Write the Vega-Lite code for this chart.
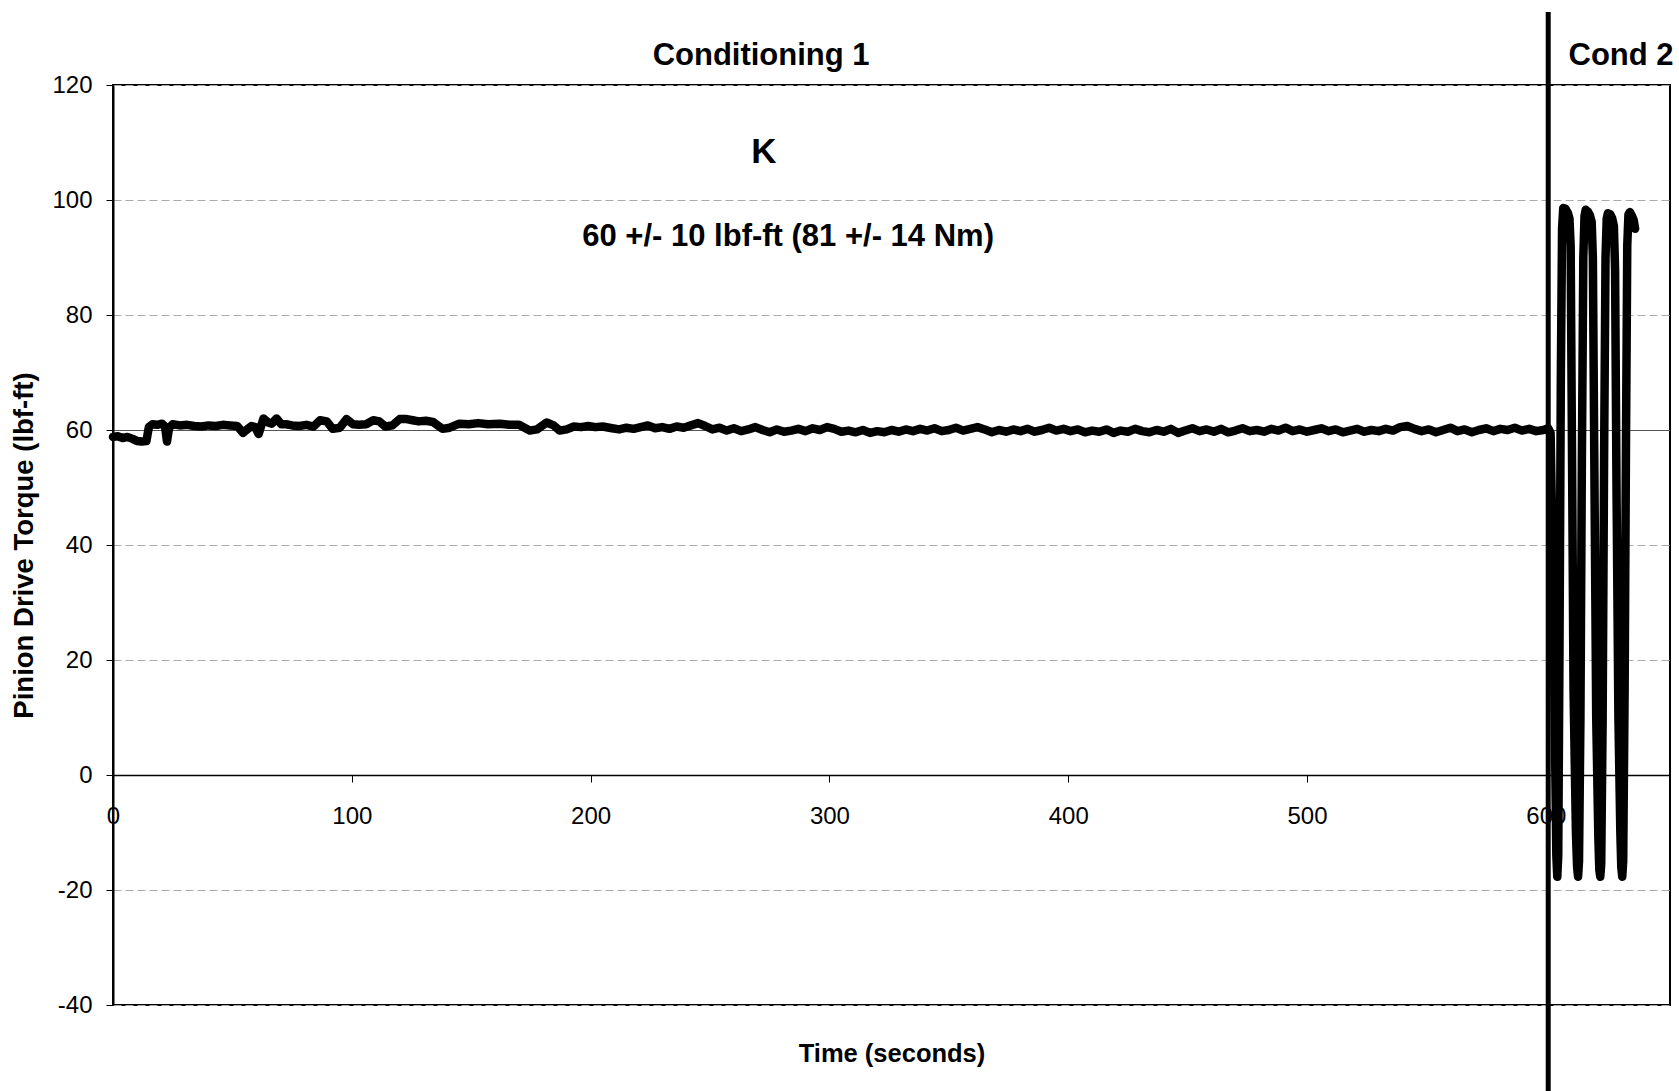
{
  "$schema": "https://vega.github.io/schema/vega-lite/v6.json",
  "width": 1557,
  "height": 920,
  "autosize": {"type": "none"},
  "padding": {"left": 113, "top": 85, "right": 9, "bottom": 86},
  "background": "white",
  "config": {
    "view": {"stroke": "black", "strokeWidth": 2},
    "axis": {
      "labelFont": "Liberation Sans",
      "titleFont": "Liberation Sans",
      "labelFontSize": 24,
      "labelColor": "black",
      "titleColor": "black",
      "titleFontWeight": "bold",
      "domainColor": "black",
      "tickColor": "black"
    }
  },
  "layer": [
    {
      "data": {
        "values": [
          {"t": 0, "v": 58.8}, {"t": 2, "v": 58.9}, {"t": 4, "v": 58.6}, {"t": 6, "v": 58.8}, {"t": 8, "v": 58.5},
          {"t": 10, "v": 58.1}, {"t": 12, "v": 58.0}, {"t": 14, "v": 58.1}, {"t": 15, "v": 60.5}, {"t": 16.5, "v": 61.0},
          {"t": 18.5, "v": 60.9}, {"t": 20.5, "v": 61.1}, {"t": 21.8, "v": 60.6}, {"t": 22.6, "v": 58.0}, {"t": 23.5, "v": 60.4},
          {"t": 25, "v": 61.0}, {"t": 28, "v": 60.8}, {"t": 31, "v": 60.9}, {"t": 34, "v": 60.7}, {"t": 37, "v": 60.6},
          {"t": 40, "v": 60.8}, {"t": 43, "v": 60.7}, {"t": 46, "v": 60.9}, {"t": 49, "v": 60.8}, {"t": 52, "v": 60.7},
          {"t": 54.5, "v": 59.5}, {"t": 56.5, "v": 60.2}, {"t": 58, "v": 60.7}, {"t": 59.5, "v": 60.5}, {"t": 61, "v": 59.3},
          {"t": 63, "v": 62.0}, {"t": 65, "v": 61.3}, {"t": 66.5, "v": 61.1}, {"t": 68.5, "v": 62.0}, {"t": 70.5, "v": 61.0},
          {"t": 72.5, "v": 61.0}, {"t": 75, "v": 60.8}, {"t": 78, "v": 60.7}, {"t": 81, "v": 60.9}, {"t": 84, "v": 60.6},
          {"t": 86.7, "v": 61.7}, {"t": 89.5, "v": 61.5}, {"t": 92, "v": 60.2}, {"t": 95, "v": 60.4}, {"t": 97.8, "v": 61.9},
          {"t": 100.5, "v": 61.0}, {"t": 103, "v": 60.9}, {"t": 106, "v": 61.0}, {"t": 109, "v": 61.7}, {"t": 111.5, "v": 61.5},
          {"t": 114, "v": 60.6}, {"t": 117, "v": 60.8}, {"t": 120, "v": 61.9}, {"t": 123, "v": 61.9}, {"t": 125.5, "v": 61.7},
          {"t": 128, "v": 61.5}, {"t": 131, "v": 61.6}, {"t": 134, "v": 61.4}, {"t": 138, "v": 60.2}, {"t": 141, "v": 60.4},
          {"t": 145, "v": 61.1}, {"t": 149, "v": 61.0}, {"t": 153, "v": 61.2}, {"t": 157, "v": 61.0}, {"t": 162, "v": 61.1},
          {"t": 166, "v": 60.9}, {"t": 170, "v": 60.9}, {"t": 174.5, "v": 59.9}, {"t": 177.5, "v": 60.1}, {"t": 181.6, "v": 61.3},
          {"t": 184.5, "v": 60.8}, {"t": 187, "v": 59.9}, {"t": 190, "v": 60.1}, {"t": 193, "v": 60.6}, {"t": 196, "v": 60.5},
          {"t": 199, "v": 60.7}, {"t": 202, "v": 60.5}, {"t": 205, "v": 60.6},
          {"t": 209, "v": 60.3}, {"t": 212, "v": 60.1}, {"t": 215, "v": 60.4}, {"t": 218, "v": 60.2}, {"t": 221, "v": 60.5},
          {"t": 224, "v": 60.8}, {"t": 227, "v": 60.3}, {"t": 230, "v": 60.5}, {"t": 233, "v": 60.2}, {"t": 236, "v": 60.6},
          {"t": 239, "v": 60.4}, {"t": 242, "v": 60.8}, {"t": 245, "v": 61.2}, {"t": 248, "v": 60.7}, {"t": 251, "v": 60.1},
          {"t": 254, "v": 60.4}, {"t": 257, "v": 59.9}, {"t": 260, "v": 60.3}, {"t": 263, "v": 59.8}, {"t": 266, "v": 60.1},
          {"t": 269, "v": 60.5}, {"t": 272, "v": 60.0}, {"t": 275, "v": 59.6}, {"t": 278, "v": 60.1}, {"t": 281, "v": 59.7},
          {"t": 284, "v": 59.9}, {"t": 287, "v": 60.2}, {"t": 290, "v": 59.8}, {"t": 293, "v": 60.3}, {"t": 296, "v": 60.0},
          {"t": 299, "v": 60.5}, {"t": 302, "v": 60.2}, {"t": 305, "v": 59.7}, {"t": 308, "v": 59.9}, {"t": 311, "v": 59.6},
          {"t": 314, "v": 60.0}, {"t": 317, "v": 59.5}, {"t": 320, "v": 59.8}, {"t": 323, "v": 59.6}, {"t": 326, "v": 60.0},
          {"t": 329, "v": 59.7}, {"t": 332, "v": 60.1}, {"t": 335, "v": 59.8}, {"t": 338, "v": 60.2}, {"t": 341, "v": 59.9},
          {"t": 344, "v": 60.3}, {"t": 347, "v": 59.8}, {"t": 350, "v": 60.0}, {"t": 353, "v": 60.4}, {"t": 356, "v": 59.9},
          {"t": 359, "v": 60.2}, {"t": 362, "v": 60.5}, {"t": 365, "v": 60.1}, {"t": 368, "v": 59.6}, {"t": 371, "v": 60.0},
          {"t": 374, "v": 59.7}, {"t": 377, "v": 60.1}, {"t": 380, "v": 59.8}, {"t": 383, "v": 60.2}, {"t": 386, "v": 59.7},
          {"t": 389, "v": 60.0}, {"t": 392, "v": 60.4}, {"t": 395, "v": 59.9}, {"t": 398, "v": 60.2}, {"t": 401, "v": 59.8},
          {"t": 404, "v": 60.1}, {"t": 407, "v": 59.6}, {"t": 410, "v": 59.9}, {"t": 413, "v": 59.7}, {"t": 416, "v": 60.1},
          {"t": 419, "v": 59.5}, {"t": 422, "v": 59.9}, {"t": 425, "v": 59.7}, {"t": 428, "v": 60.2}, {"t": 431, "v": 59.8},
          {"t": 434, "v": 59.6}, {"t": 437, "v": 60.0}, {"t": 440, "v": 59.7}, {"t": 443, "v": 60.2}, {"t": 446, "v": 59.5},
          {"t": 449, "v": 59.9}, {"t": 452, "v": 60.3}, {"t": 455, "v": 59.8}, {"t": 458, "v": 60.1}, {"t": 461, "v": 59.7},
          {"t": 464, "v": 60.2}, {"t": 467, "v": 59.6}, {"t": 470, "v": 59.9}, {"t": 473, "v": 60.3}, {"t": 476, "v": 59.8},
          {"t": 479, "v": 60.0}, {"t": 482, "v": 59.7}, {"t": 485, "v": 60.2}, {"t": 488, "v": 59.9}, {"t": 491, "v": 60.4},
          {"t": 494, "v": 59.8}, {"t": 497, "v": 60.1}, {"t": 500, "v": 59.7}, {"t": 503, "v": 60.0}, {"t": 506, "v": 60.3},
          {"t": 509, "v": 59.8}, {"t": 512, "v": 60.1}, {"t": 515, "v": 59.6}, {"t": 518, "v": 59.9}, {"t": 521, "v": 60.2},
          {"t": 524, "v": 59.7}, {"t": 527, "v": 60.0}, {"t": 530, "v": 59.8}, {"t": 533, "v": 60.2}, {"t": 536, "v": 59.9},
          {"t": 539, "v": 60.5}, {"t": 542, "v": 60.7}, {"t": 545, "v": 60.2}, {"t": 548, "v": 59.8}, {"t": 551, "v": 60.1},
          {"t": 554, "v": 59.6}, {"t": 557, "v": 60.0}, {"t": 560, "v": 60.4}, {"t": 563, "v": 59.8}, {"t": 566, "v": 60.1},
          {"t": 569, "v": 59.6}, {"t": 572, "v": 60.0}, {"t": 575, "v": 60.3}, {"t": 578, "v": 59.8}, {"t": 581, "v": 60.2},
          {"t": 584, "v": 60.0}, {"t": 587, "v": 60.4}, {"t": 590, "v": 59.9}, {"t": 593, "v": 60.2}, {"t": 596, "v": 59.8},
          {"t": 599, "v": 60.0},
          {"t": 601, "v": 60.3}, {"t": 602, "v": 59.5}, {"t": 603.2, "v": 30}, {"t": 604, "v": 0}, {"t": 604.4, "v": -14},
          {"t": 604.8, "v": -17.7}, {"t": 605.2, "v": -14}, {"t": 605.7, "v": 20}, {"t": 606.3, "v": 70}, {"t": 606.8, "v": 95},
          {"t": 607.3, "v": 98.6}, {"t": 608.2, "v": 98.5}, {"t": 609.2, "v": 97.8}, {"t": 609.9, "v": 96.8}, {"t": 610.4, "v": 92},
          {"t": 610.9, "v": 60}, {"t": 611.6, "v": 15}, {"t": 612.6, "v": -10}, {"t": 613.1, "v": -16}, {"t": 613.5, "v": -17.7},
          {"t": 613.9, "v": -15}, {"t": 614.5, "v": 10}, {"t": 615.1, "v": 55}, {"t": 615.7, "v": 90}, {"t": 616.2, "v": 97.2},
          {"t": 616.7, "v": 98.3}, {"t": 617.6, "v": 98.0}, {"t": 618.5, "v": 97.3}, {"t": 619.2, "v": 96.2}, {"t": 619.7, "v": 90},
          {"t": 620.3, "v": 55}, {"t": 621.1, "v": 10}, {"t": 622, "v": -11}, {"t": 622.4, "v": -16.5}, {"t": 622.8, "v": -17.7},
          {"t": 623.2, "v": -15.5}, {"t": 623.8, "v": 10}, {"t": 624.4, "v": 55}, {"t": 625, "v": 90}, {"t": 625.5, "v": 96.8},
          {"t": 626, "v": 97.7}, {"t": 627, "v": 97.5}, {"t": 627.8, "v": 96.8}, {"t": 628.5, "v": 95.5}, {"t": 629, "v": 88},
          {"t": 629.6, "v": 50}, {"t": 630.4, "v": 10}, {"t": 631.2, "v": -10}, {"t": 631.6, "v": -16}, {"t": 632, "v": -17.7},
          {"t": 632.4, "v": -15}, {"t": 633, "v": 15}, {"t": 633.6, "v": 60}, {"t": 634.1, "v": 92}, {"t": 634.6, "v": 97.5},
          {"t": 635.2, "v": 97.9}, {"t": 636, "v": 97.3}, {"t": 636.8, "v": 96.5}, {"t": 637.4, "v": 95}
        ]
      },
      "mark": {"type": "line", "color": "black", "strokeWidth": 8.5, "strokeJoin": "round", "strokeCap": "round"},
      "encoding": {
        "x": {
          "field": "t", "type": "quantitative",
          "scale": {"domain": [0, 652], "nice": false, "zero": false},
          "axis": {
            "values": [0, 100, 200, 300, 400, 500, 600],
            "offset": -230,
            "grid": false,
            "title": "Time (seconds)",
            "titleFontSize": 25.5,
            "titleX": 778.5,
            "titleY": 286,
            "titleBaseline": "alphabetic",
            "tickSize": 7,
            "labelPadding": 22,
            "domainWidth": 1.5,
            "labelFlush": false,
            "labelOverlap": false
          }
        },
        "y": {
          "field": "v", "type": "quantitative",
          "scale": {"domain": [-40, 120], "nice": false, "zero": false},
          "axis": {
            "values": [-40, -20, 0, 20, 40, 60, 80, 100, 120],
            "labelExpr": "datum.value < 0 ? '-' + abs(datum.value) : '' + datum.value",
            "title": "Pinion Drive Torque (lbf-ft)",
            "titleFontSize": 27.5,
            "titleX": -89,
            "titleY": 460,
            "titleBaseline": "middle",
            "tickSize": 7,
            "labelPadding": 14,
            "domainWidth": 2,
            "grid": true,
            "gridColor": {"condition": {"test": "datum.value === 60", "value": "#555555"}, "value": "#aaaaaa"},
            "gridDash": {"condition": {"test": "datum.value === 60", "value": []}, "value": [8, 4]},
            "gridWidth": 1.2
          }
        }
      }
    },
    {
      "data": {"values": [{"t": 601, "v": 132.7, "v2": -56}]},
      "mark": {"type": "rule", "color": "black", "strokeWidth": 5, "clip": false},
      "encoding": {
        "x": {"field": "t", "type": "quantitative"},
        "y": {"field": "v", "type": "quantitative"},
        "y2": {"field": "v2"}
      }
    },
    {
      "data": {
        "values": [
          {"label": "Conditioning 1", "t": 271.4, "v": 125.1},
          {"label": "Cond 2", "t": 631.5, "v": 125.1},
          {"label": "60 +/- 10 lbf-ft (81 +/- 14 Nm)", "t": 282.7, "v": 93.6}
        ]
      },
      "mark": {"type": "text", "font": "Liberation Sans", "fontSize": 31, "fontWeight": "bold", "baseline": "middle", "align": "center", "clip": false, "color": "black"},
      "encoding": {
        "x": {"field": "t", "type": "quantitative"},
        "y": {"field": "v", "type": "quantitative"},
        "text": {"field": "label", "type": "nominal"}
      }
    },
    {
      "data": {"values": [{"label": "K", "t": 272.6, "v": 108.4}]},
      "mark": {"type": "text", "font": "Liberation Sans", "fontSize": 35, "fontWeight": "bold", "baseline": "middle", "align": "center", "clip": false, "color": "black"},
      "encoding": {
        "x": {"field": "t", "type": "quantitative"},
        "y": {"field": "v", "type": "quantitative"},
        "text": {"field": "label", "type": "nominal"}
      }
    }
  ]
}
